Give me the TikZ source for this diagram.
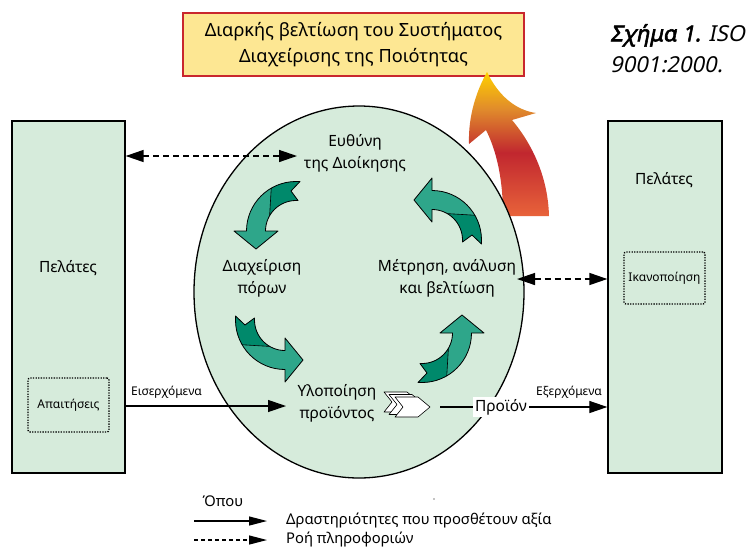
\documentclass[tikz,border=0pt]{standalone}
\usepackage{fontspec}
\setmainfont{Noto Sans}
\newfontface\capbi{Noto Sans}[FakeBold=2.5,FakeSlant=0.2]
\newfontface\capi{Noto Sans}[FakeSlant=0.2]
\usetikzlibrary{shapes.geometric,arrows.meta,calc}

\definecolor{boxgreen}{HTML}{D6EBDB}
\definecolor{tealL}{HTML}{2EA68A}
\definecolor{tealD}{HTML}{00896B}
\definecolor{titlefill}{HTML}{FDE793}
\definecolor{titleborder}{HTML}{C9272E}
\definecolor{arrYellow}{HTML}{FFD000}
\definecolor{arrOrange}{HTML}{E08A2C}
\definecolor{arrRed}{HTML}{C1272F}
\definecolor{arrBottom}{HTML}{E8633A}

\pgfdeclareverticalshading{bigarrow}{100bp}{color(0bp)=(arrBottom); color(25bp)=(arrBottom); color(47bp)=(arrRed); color(62bp)=(arrOrange); color(75bp)=(arrYellow); color(100bp)=(arrYellow)}

\newcommand\cycarrow[3]{%
\begin{scope}[shift={(#1,#2)}, rotate=#3, yscale=-1]
 \fill[tealL] (4,49.5) -- (0,49.5) arc[start angle=90,end angle=180,radius=49.5] -- (-62,0) -- (-40,-18) -- (-18,0) -- (-30.5,0) arc[start angle=180,end angle=90,radius=30.5] -- (2,30.5) -- (-5,40) -- cycle;
 \fill[tealD] (4,49.5) -- (0,49.5) arc[start angle=90,end angle=120,radius=49.5] -- (150:30.5) arc[start angle=150,end angle=90,radius=30.5] -- (2,30.5) -- (-5,40) -- cycle;
 \draw[line width=0.8pt, line join=round] (4,49.5) -- (0,49.5) arc[start angle=90,end angle=180,radius=49.5] -- (-62,0) -- (-40,-18) -- (-18,0) -- (-30.5,0) arc[start angle=180,end angle=90,radius=30.5] -- (2,30.5) -- (-5,40) -- cycle;
 \draw[line width=0.6pt] (120:49.5) -- (150:30.5);
\end{scope}}

\newcommand\chevshape[2]{\draw[fill=white, line width=0.6pt, line join=round] (#1,#2) -- ++(23,0) -- ++(12,10) -- ++(-12,10) -- ++(-23,0) -- ++(8,-10) -- cycle;}

\begin{document}
\begin{tikzpicture}[x=1pt,y=-1pt,
  greenbox/.style={draw, line width=1.3pt, fill=boxgreen, inner sep=0pt},
  dotbox/.style={draw, line width=1.3pt, dash pattern=on 1.3pt off 1.3pt, rounded corners=2pt, inner sep=0pt},
  lbl/.style={font=\fontsize{15.5}{22}\selectfont, align=center, inner sep=1pt},
  leglbl/.style={font=\fontsize{14.8}{18}\selectfont, inner sep=1pt},
  smalllbl/.style={font=\fontsize{12}{14}\selectfont, inner sep=1pt},
  solidarr/.style={line width=1.2pt, -{Triangle[length=18pt,width=12pt]}},
  dasharr/.style={line width=1.4pt, dash pattern=on 6pt off 4pt, {Triangle[length=18pt,width=12pt]}-{Triangle[length=18pt,width=12pt]}},
  legsolid/.style={line width=1.2pt, -{Triangle[length=18pt,width=9pt]}},
  legdash/.style={line width=1.2pt, dash pattern=on 4pt off 3pt, -{Triangle[length=18pt,width=9pt]}},
]
\useasboundingbox (0,0) rectangle (754,550);

% title box
\node[draw=titleborder, fill=titlefill, line width=1.5pt, minimum width=341pt, minimum height=63pt, inner sep=0pt,
      font=\fontsize{18.2}{26}\selectfont, align=center] (title) at (353.5,44.5)
  {Διαρκής βελτίωση του Συστήματος\\Διαχείρισης της Ποιότητας};

% caption
\node[anchor=north west, align=left, inner sep=0pt, font=\fontsize{22}{31}\selectfont] (cap) at (610,24)
  {{\capbi Σχήμα 1.} {\capi ISO}\\{\capi 9001:2000.}};

% customer boxes
\node[greenbox, minimum width=113pt, minimum height=352pt] (lbox) at (68.5,297) {};
\node[greenbox, minimum width=114pt, minimum height=352pt] (rbox) at (665,297) {};
\node[lbl] (lcust) at (68,268) {Πελάτες};
\node[lbl] (rcust) at (664,180) {Πελάτες};
\node[dotbox, minimum width=81pt, minimum height=54pt, smalllbl] (req) at (68.5,405) {Απαιτήσεις};
\node[dotbox, minimum width=81pt, minimum height=52pt, smalllbl] (sat) at (664.5,278) {Ικανοποίηση};

% big improvement arrow (behind the circle)
\shade[shading=bigarrow] (487,72) .. controls (498,95) and (515,110) .. (536,113) -- (512,120)
  .. controls (533,145) and (548,178) .. (549,216) -- (503,216)
  .. controls (503,180) and (497,152) .. (486,130) -- (469,144)
  .. controls (468,115) and (477,90) .. (487,72) -- cycle;

% process circle
\node[draw, ellipse, line width=1.3pt, fill=boxgreen, minimum width=330pt, minimum height=372pt, inner sep=0pt] (circ) at (359,292) {};

% labels inside
\node[lbl] (mgmt) at (355,153) {Ευθύνη\\της Διοίκησης};
\node[lbl] (res) at (262,278) {Διαχείριση\\πόρων};
\node[lbl] (meas) at (447,278) {Μέτρηση, ανάλυση\\και βελτίωση};
\node[lbl] (real) at (337,403) {Υλοποίηση\\προϊόντος};

% cycle arrows
\cycarrow{296}{231}{0}
\cycarrow{285}{320}{90}
\cycarrow{422}{333}{180}
\cycarrow{432}{240}{270}

% chevrons
\chevshape{384}{392}
\chevshape{389}{394.5}
\chevshape{395}{397}

% connectors
\coordinate (mgmtin) at (297,156);
\coordinate (measout) at (517,279);
\coordinate (realin) at (286,406);
\coordinate (chevout) at (440,407);
\draw[dasharr] (lbox.east |- mgmtin) -- (mgmtin);
\draw[dasharr] (measout) -- (rbox.west |- measout);
\draw[solidarr] (lbox.east |- realin) -- (realin);
\node[smalllbl, anchor=south west] (inlbl) at (130,400) {Εισερχόμενα};

\node[fill=white, inner sep=2pt, font=\fontsize{15.5}{18}\selectfont] (prod) at (501,407) {Προϊόν};
\draw[line width=1.2pt] (chevout) -- (prod.west);
\draw[solidarr] (prod.east) -- (rbox.west |- prod.east);
\node[smalllbl, anchor=south] (outlbl) at (569,400) {Εξερχόμενα};

% legend
\node[leglbl] (where) at (223,501) {Όπου};
\coordinate (l1a) at (194,521);
\coordinate (l1b) at (267,521);
\coordinate (l2a) at (194,540);
\coordinate (l2b) at (267,540);
\draw[legsolid] (l1a) -- (l1b);
\draw[legdash] (l2a) -- (l2b);
\node[leglbl, anchor=west] (leg1) at (285,521) {Δραστηριότητες που προσθέτουν αξία};
\node[leglbl, anchor=west] (leg2) at (285,540) {Ροή πληροφοριών};
\fill (434,499) circle (0.7pt);
\end{tikzpicture}
\end{document}
